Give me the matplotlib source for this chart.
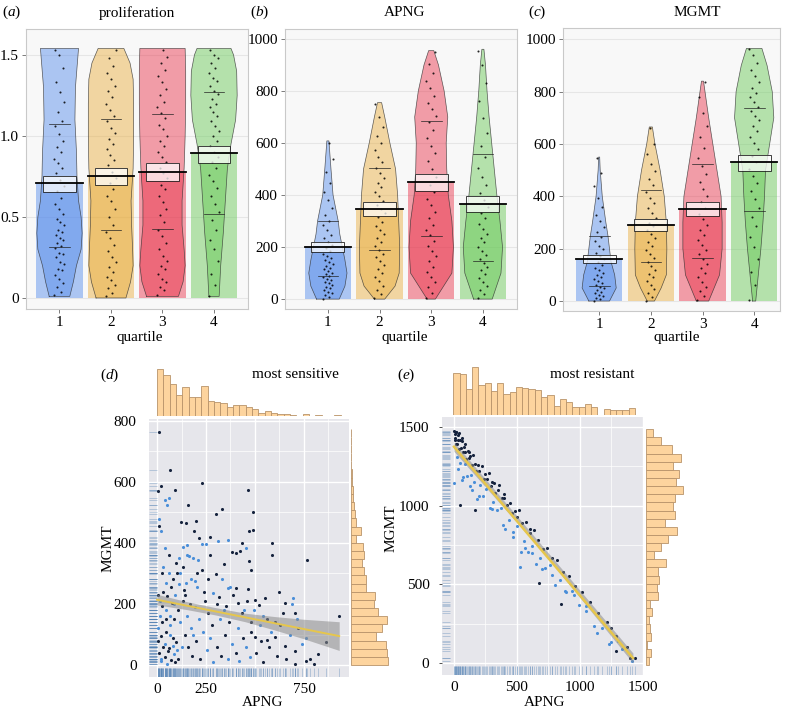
"""Pirate plots of proliferation / APNG / MGMT by quartile, plus two joint plots."""

import matplotlib

matplotlib.use("Agg")
import matplotlib.pyplot as plt
import numpy as np
from matplotlib.patches import Rectangle

plt.rcParams["font.family"] = ["Liberation Serif", "DejaVu Serif"]
plt.rcParams["font.size"] = 11
plt.rcParams["mathtext.fontset"] = "custom"
plt.rcParams["mathtext.rm"] = "Liberation Serif"
plt.rcParams["mathtext.it"] = "Liberation Serif:italic"

W, H = 792, 712

QUARTILES = [1, 2, 3, 4]
PIRATE_COLOURS = ["#4f87eb", "#e9ab37", "#e92c45", "#61c74f"]

# ---- (a) proliferation -------------------------------------------------------
prolif_mean = [0.71, 0.755, 0.778, 0.895]
prolif_box_lo = [0.654, 0.70, 0.722, 0.833]
prolif_box_hi = [0.753, 0.80, 0.833, 0.938]
prolif_q_lo = [0.315, 0.42, 0.425, 0.518]
prolif_q_hi = [1.074, 1.105, 1.135, 1.27]
prolif_levels = [
    [0.01, 0.1, 0.2, 0.3, 0.4, 0.5, 0.6, 0.75, 0.9, 1.1, 1.3, 1.54],
    [0.0, 0.1, 0.2, 0.3, 0.45, 0.6, 0.8, 1.0, 1.2, 1.35, 1.45, 1.54],
    [0.01, 0.1, 0.2, 0.3, 0.45, 0.6, 0.8, 1.0, 1.2, 1.4, 1.54],
    [0.01, 0.2, 0.4, 0.6, 0.8, 0.95, 1.1, 1.25, 1.4, 1.5, 1.54],
]
prolif_widths = [
    [0.20, 0.27, 0.33, 0.42, 0.44, 0.42, 0.37, 0.34, 0.33, 0.30, 0.31, 0.37],
    [0.29, 0.38, 0.43, 0.42, 0.40, 0.39, 0.43, 0.44, 0.44, 0.43, 0.37, 0.25],
    [0.31, 0.40, 0.44, 0.42, 0.38, 0.38, 0.42, 0.44, 0.45, 0.45, 0.44],
    [0.10, 0.13, 0.18, 0.22, 0.26, 0.33, 0.42, 0.45, 0.44, 0.38, 0.33],
]
prolif_points = [
    [0.02, 0.04, 0.07, 0.09, 0.12, 0.14, 0.17, 0.18, 0.21, 0.22, 0.25, 0.27, 0.28, 0.31,
     0.32, 0.34, 0.36, 0.37, 0.39, 0.41, 0.42, 0.45, 0.47, 0.49, 0.52, 0.55, 0.58, 0.62,
     0.66, 0.69, 0.73, 0.77, 0.8, 0.83, 0.86, 0.9, 0.93, 0.97, 1.01, 1.06, 1.09, 1.15,
     1.21, 1.27, 1.33, 1.42, 1.5, 1.53],
    [0.01, 0.03, 0.06, 0.08, 0.11, 0.13, 0.16, 0.19, 0.22, 0.25, 0.29, 0.33, 0.37, 0.41,
     0.45, 0.5, 0.55, 0.6, 0.63, 0.67, 0.71, 0.74, 0.78, 0.82, 0.85, 0.88, 0.92, 0.95,
     0.98, 1.02, 1.05, 1.09, 1.12, 1.16, 1.2, 1.24, 1.28, 1.31, 1.35, 1.39, 1.43, 1.48, 1.53],
    [0.02, 0.05, 0.07, 0.1, 0.12, 0.15, 0.18, 0.2, 0.23, 0.26, 0.3, 0.34, 0.38, 0.42,
     0.47, 0.51, 0.55, 0.59, 0.63, 0.67, 0.7, 0.74, 0.77, 0.8, 0.84, 0.87, 0.9, 0.94,
     0.97, 1.0, 1.04, 1.07, 1.11, 1.14, 1.18, 1.21, 1.25, 1.29, 1.33, 1.37, 1.41, 1.45,
     1.49, 1.53],
    [0.01, 0.08, 0.15, 0.23, 0.3, 0.36, 0.42, 0.48, 0.53, 0.58, 0.63, 0.68, 0.72, 0.76,
     0.8, 0.84, 0.87, 0.9, 0.94, 0.97, 1.0, 1.03, 1.06, 1.09, 1.12, 1.15, 1.18, 1.2,
     1.23, 1.26, 1.28, 1.31, 1.34, 1.36, 1.39, 1.42, 1.45, 1.48, 1.5, 1.53],
]

# ---- (b) APNG ----------------------------------------------------------------
apng_mean = [200, 347, 450, 365]
apng_box_lo = [181, 321, 417, 335]
apng_box_hi = [218, 372, 481, 395]
apng_q_lo = [87, 190, 243, 148]
apng_q_hi = [301, 503, 683, 557]
apng_levels = [
    [0, 50, 100, 150, 200, 250, 300, 400, 500, 608],
    [0, 50, 100, 200, 300, 400, 500, 600, 700, 755],
    [0, 100, 200, 300, 400, 500, 600, 700, 800, 900, 955],
    [0, 100, 200, 300, 400, 500, 600, 700, 800, 900, 960],
]
apng_widths = [
    [0.22, 0.33, 0.37, 0.33, 0.28, 0.23, 0.20, 0.10, 0.06, 0.02],
    [0.10, 0.30, 0.38, 0.39, 0.37, 0.35, 0.31, 0.20, 0.10, 0.04],
    [0.08, 0.40, 0.43, 0.40, 0.33, 0.30, 0.29, 0.32, 0.25, 0.14, 0.05],
    [0.18, 0.35, 0.38, 0.33, 0.27, 0.22, 0.17, 0.12, 0.08, 0.05, 0.02],
]
apng_points = [
    [2, 8, 15, 22, 28, 35, 41, 48, 55, 60, 66, 72, 78, 84, 90, 96, 102, 108, 115, 121,
     128, 135, 142, 150, 158, 166, 175, 185, 196, 208, 220, 233, 248, 265, 283, 302,
     325, 350, 380, 410, 445, 490, 540, 600],
    [3, 18, 35, 52, 68, 85, 100, 116, 130, 145, 160, 175, 190, 205, 220, 236, 250, 266,
     282, 298, 314, 330, 346, 362, 378, 395, 412, 430, 448, 466, 485, 505, 525, 548,
     572, 598, 628, 660, 700, 750],
    [4, 25, 45, 65, 85, 105, 125, 145, 165, 185, 205, 225, 245, 265, 285, 310, 335, 360,
     385, 410, 440, 470, 500, 530, 560, 590, 620, 650, 680, 705, 730, 755, 780, 810,
     840, 870, 905, 950],
    [5, 20, 35, 50, 65, 80, 95, 110, 125, 140, 155, 170, 186, 202, 218, 235, 252, 270,
     290, 310, 332, 355, 380, 408, 438, 470, 505, 545, 590, 640, 695, 760, 830, 900, 955],
]

# ---- (c) MGMT ----------------------------------------------------------------
mgmt_mean = [160, 290, 352, 530]
mgmt_box_lo = [144, 268, 325, 498]
mgmt_box_hi = [174, 313, 377, 558]
mgmt_q_lo = [57, 150, 166, 344]
mgmt_q_hi = [248, 424, 522, 736]
mgmt_levels = [
    [0, 50, 100, 150, 200, 250, 300, 400, 500, 550],
    [0, 50, 100, 200, 300, 400, 500, 600, 665],
    [0, 100, 200, 300, 400, 500, 600, 700, 840],
    [0, 100, 200, 300, 400, 500, 600, 700, 800, 900, 965],
]
mgmt_widths = [
    [0.20, 0.33, 0.30, 0.23, 0.20, 0.17, 0.13, 0.06, 0.02, 0.01],
    [0.07, 0.20, 0.30, 0.31, 0.30, 0.26, 0.18, 0.08, 0.03],
    [0.12, 0.33, 0.38, 0.38, 0.36, 0.28, 0.20, 0.12, 0.02],
    [0.03, 0.08, 0.13, 0.17, 0.20, 0.22, 0.30, 0.38, 0.35, 0.25, 0.15],
]
mgmt_points = [
    [1, 6, 12, 18, 24, 30, 36, 42, 48, 55, 62, 69, 76, 84, 92, 100, 109, 118, 128, 138,
     149, 160, 172, 185, 198, 212, 228, 245, 262, 282, 305, 330, 360, 395, 440, 490, 545],
    [2, 15, 30, 45, 60, 75, 90, 105, 120, 135, 150, 165, 180, 195, 210, 225, 240, 255,
     270, 285, 300, 318, 336, 355, 375, 395, 418, 442, 468, 495, 525, 560, 600, 660],
    [3, 20, 38, 55, 72, 90, 108, 125, 142, 160, 178, 196, 215, 234, 253, 272, 292, 312,
     333, 355, 378, 402, 428, 455, 485, 515, 548, 585, 625, 670, 720, 780, 835],
    [5, 60, 110, 160, 205, 245, 285, 320, 355, 390, 420, 450, 478, 505, 530, 555, 580,
     605, 628, 650, 670, 690, 708, 725, 742, 760, 778, 796, 815, 835, 858, 882, 910,
     940, 962],
]

# ---- (d) most sensitive ------------------------------------------------------
sens_apng = [
    12, 68, 232, 462, 22, 6, 92, 160, 300, 332,
    492, 42, 52, 60, 12, 18, 10, 585, 432, 765,
    588, 472, 488, 122, 148, 198, 188, 212, 252, 312,
    362, 482, 472, 272, 382, 402, 422, 452, 152, 132,
    112, 152, 162, 182, 172, 192, 148, 40, 62, 30,
    62, 82, 102, 202, 232, 262, 302, 332, 362, 402,
    462, 502, 522, 622, 652, 642, 692, 690, 702, 712,
    930, 602, 562, 542, 482, 502, 532, 562, 602, 652,
    702, 742, 762, 780, 822, 862, 802, 702, 762, 5,
    14, 27, 33, 47, 53, 66, 74, 87, 93, 7,
    19, 26, 39, 46, 59, 67, 79, 86, 99, 11,
    21, 31, 42, 51, 57, 71, 82, 91, 103, 108,
    118, 133, 141, 154, 158, 173, 179, 194, 198, 213,
    221, 234, 238, 253, 262, 268, 283, 287, 304, 308,
    323, 328, 343, 347, 362, 367, 384, 388, 403, 412,
    418, 433, 437, 452, 457, 474, 478, 493, 507, 524,
    540, 550, 570, 580, 610, 630, 660, 680, 720, 112,
    138, 205, 245, 285, 318, 352, 375, 415, 445, 25,
    48, 72, 95, 118, 135, 210, 230, 340, 270, 14,
    3, 22, 44, 66, 86, 106, 126, 144, 166, 186,
]
sens_mgmt = [
    765, 640, 595, 572, 585, 570, 572, 525, 495, 512,
    500, 540, 525, 548, 478, 440, 455, 400, 400, 345,
    362, 438, 442, 470, 465, 472, 440, 415, 395, 408,
    410, 310, 342, 362, 372, 368, 375, 385, 392, 388,
    352, 362, 356, 352, 282, 276, 270, 382, 362, 320,
    300, 282, 302, 300, 312, 282, 298, 282, 252, 252,
    250, 212, 198, 240, 202, 170, 220, 200, 172, 152,
    160, 142, 152, 162, 140, 92, 80, 82, 92, 62,
    45, 70, 90, 20, 35, 75, 2, 2, 12, 230,
    210, 195, 240, 180, 225, 160, 205, 150, 230, 120,
    95, 140, 70, 110, 55, 130, 90, 35, 75, 40,
    15, 60, 25, 5, 45, 18, 62, 10, 50, 180,
    140, 210, 100, 160, 60, 120, 30, 190, 80, 150,
    20, 110, 240, 50, 170, 90, 130, 10, 200, 60,
    150, 30, 180, 100, 20, 140, 70, 230, 40, 120,
    15, 170, 90, 60, 210, 25, 110, 180, 40, 130,
    10, 220, 60, 110, 30, 130, 20, 100, 120, 265,
    245, 255, 210, 235, 222, 195, 255, 205, 180, 300,
    270, 255, 335, 300, 320, 345, 395, 330, 420, 160,
    80, 20, 150, 100, 200, 20, 60, 230, 200, 100,
]
sens_dark = [
    1, 1, 1, 1, 1, 1, 1, 1, 1, 1,
    1, 0, 0, 0, 0, 0, 1, 1, 1, 1,
    1, 1, 1, 1, 1, 1, 1, 1, 0, 0,
    0, 1, 1, 1, 1, 1, 1, 0, 0, 0,
    0, 0, 0, 0, 0, 0, 0, 0, 1, 0,
    0, 1, 1, 1, 1, 1, 1, 0, 0, 1,
    1, 1, 1, 1, 1, 1, 0, 0, 1, 0,
    1, 1, 1, 0, 1, 1, 1, 1, 1, 1,
    1, 0, 0, 1, 1, 1, 1, 1, 1, 1,
    0, 1, 1, 0, 1, 0, 1, 1, 0, 0,
    1, 1, 0, 1, 1, 0, 1, 0, 1, 1,
    0, 1, 1, 0, 1, 1, 0, 1, 0, 1,
    0, 1, 1, 0, 1, 0, 1, 0, 1, 0,
    1, 0, 1, 0, 1, 0, 1, 0, 1, 1,
    0, 1, 0, 1, 0, 1, 0, 1, 1, 0,
    0, 1, 1, 0, 1, 0, 1, 0, 1, 0,
    1, 1, 1, 0, 1, 1, 1, 0, 1, 0,
    1, 0, 1, 0, 1, 1, 0, 1, 0, 1,
    0, 1, 1, 0, 1, 0, 0, 1, 1, 0,
    1, 0, 1, 0, 0, 1, 0, 1, 1, 0,
]
sens_fit_x = [0, 930]
sens_fit_y = [214, 95]
sens_band_x = [0, 150, 300, 450, 600, 750, 930]
sens_band_lo = [197, 182, 164, 142, 115, 86, 48]
sens_band_hi = [232, 208, 188, 170, 159, 150, 142]
sens_apng_counts = [47, 41, 32, 21, 29, 19, 19, 30, 15, 14, 13, 9, 11, 11, 9, 7, 3, 5,
                    3, 2, 2, 1, 0, 2, 0, 1, 0, 0, 1]
sens_mgmt_counts = [110, 109, 104, 74, 94, 109, 82, 68, 73, 44, 44, 40, 32, 40, 37, 15,
                    29, 14, 11, 8, 7, 6, 4, 2, 1, 0, 0, 1, 1]

# ---- (e) most resistant ------------------------------------------------------
resist_apng = [
    2, 6, 11, 15, 19, 24, 28, 33, 38, 44, 49, 55, 61, 67, 72, 78, 84, 91, 97, 104,
    110, 117, 124, 131, 139, 146, 153, 161, 169, 177, 185, 193, 202, 210, 219, 228,
    237, 246, 256, 265, 275, 285, 295, 306, 316, 327, 338, 349, 361, 372, 384, 396,
    408, 421, 433, 446, 459, 472, 486, 500, 514, 528, 543, 557, 572, 588, 603, 619,
    636, 652, 669, 686, 704, 722, 741, 760, 780, 800, 821, 843, 866, 889, 913, 938,
    964, 991, 1019, 1048, 1078, 1110, 1142, 1176, 1212, 1249, 1288, 1330, 1372, 1410,
    1440,
    48, 0, 167, 675, 849, 524, 1135, 1286, 8, 14, 30, 40, 22, 60, 90, 120, 70, 140,
    200, 300, 390, 470, 560, 620, 700, 780, 880, 950, 1050, 1230, 1300, 1400, 1250,
    600, 500, 400, 300,
]
resist_mgmt = [
    1478, 1429, 1455, 1391, 1467, 1312, 1419, 1234, 1359, 1418, 1269, 1368, 1412, 1162,
    1342, 1376, 1266, 1344, 1298, 1187, 1351, 1304, 1128, 1316, 1194, 1262, 1320, 1148,
    1265, 1218, 1040, 1262, 1219, 1131, 1253, 1059, 1171, 1202, 1108, 1169, 1210, 985,
    1126, 1026, 1146, 1081, 970, 1100, 1133, 988, 1052, 1075, 849, 1002, 910, 1018, 951,
    833, 965, 872, 974, 706, 891, 778, 894, 709, 825, 744, 843, 628, 782, 666, 724, 602,
    729, 621, 667, 498, 658, 528, 576, 454, 556, 458, 488, 368, 451, 364, 385, 235, 315,
    222, 263, 133, 172, 92, 102, 11, 33,
    1005, 1144, 973, 508, 375, 610, 190, 76, 1420, 1470, 1450, 1460, 1390, 1430, 1390,
    1340, 1180, 1100, 1060, 980, 880, 800, 730, 700, 600, 560, 460, 430, 330, 120, 140,
    30, 220, 850, 930, 1050, 1150,
]
resist_dark = [
    1, 1, 1, 1, 1, 0, 1, 0, 1, 1, 0, 1, 1, 0, 1, 1, 0, 1, 1, 0,
    1, 1, 0, 1, 0, 1, 1, 0, 1, 1, 0, 1, 1, 0, 1, 0, 1, 1, 0, 1,
    1, 0, 1, 0, 1, 1, 0, 1, 1, 0, 1, 1, 0, 1, 0, 1, 1, 0, 1, 0,
    1, 0, 1, 0, 1, 0, 1, 0, 1, 0, 1, 0, 1, 0, 1, 0, 1, 0, 1, 0,
    1, 0, 1, 0, 1, 0, 1, 0, 1, 0, 1, 0, 1, 0, 1, 0, 1, 0, 1,
    1, 0, 1, 1, 1, 0, 0, 1, 1, 1, 1, 1, 1, 1, 1, 1, 0, 0,
    0, 0, 0, 0, 0, 0, 0, 0, 0, 0, 0, 0, 0, 1, 1,
    1, 1, 1, 1,
]
resist_fit_x = [0, 1420]
resist_fit_y = [1375, 32]
resist_band_x = [0, 700, 1420]
resist_band_lo = [1345, 712, 0]
resist_band_hi = [1405, 746, 64]
resist_apng_counts = [42, 41, 26, 48, 30, 32, 24, 32, 21, 23, 28, 27, 26, 25, 18, 20, 9,
                      16, 13, 8, 8, 11, 8, 0, 6, 5, 5, 5, 7]
resist_mgmt_counts = [9, 14, 4, 14, 11, 9, 18, 12, 35, 32, 38, 35, 59, 25, 44, 67, 94, 57,
                      87, 82, 87, 110, 89, 100, 80, 104, 77, 44, 22]

HIST_FACE = "#fdd49e"
HIST_EDGE = "#b8936a"
DOT_DARK = "#15223d"
DOT_LIGHT = "#4a8ed8"
RUG = "#3f74ad"


def rect(left, top, right, bottom):
    """Pixel box (from the top-left corner) -> figure fraction rect."""
    return [left / W, 1 - bottom / H, (right - left) / W, (bottom - top) / H]


def ftext(x, y, s, **kw):
    fig.text(x / W, 1 - y / H, s, **kw)


def pirate(ax, means, box_lo, box_hi, q_lo, q_hi, levels, widths, points):
    for i, x0 in enumerate(QUARTILES):
        col = PIRATE_COLOURS[i]
        ax.bar(x0, means[i], width=0.9, color=col, alpha=0.45, lw=0, zorder=1)
        lv = np.asarray(levels[i], float)
        hw = np.asarray(widths[i], float)
        xs = np.concatenate([x0 - hw, (x0 + hw)[::-1]])
        ys = np.concatenate([lv, lv[::-1]])
        ax.fill(xs, ys, facecolor=col, alpha=0.45, edgecolor="none", zorder=2)
        ax.plot(np.append(xs, xs[0]), np.append(ys, ys[0]), color="#2a2a2a",
                lw=0.5, alpha=0.75, zorder=3)
        pts = np.asarray(points[i], float)
        jit = ((np.arange(len(pts)) * 0.618034) % 1 - 0.5) * 0.2
        ax.scatter(x0 + jit, pts, s=2.2, color="black", alpha=0.85, lw=0, zorder=4)
        for q in (q_lo[i], q_hi[i]):
            ax.plot([x0 - 0.2, x0 + 0.2], [q, q], color="#222222", lw=0.5, zorder=5)
        ax.add_patch(Rectangle((x0 - 0.32, box_lo[i]), 0.64, box_hi[i] - box_lo[i],
                               facecolor="white", alpha=0.75, edgecolor="none", zorder=6))
        ax.add_patch(Rectangle((x0 - 0.32, box_lo[i]), 0.64, box_hi[i] - box_lo[i],
                               fill=False, edgecolor="#222222", lw=0.6, zorder=7))
        ax.plot([x0 - 0.45, x0 + 0.45], [means[i], means[i]], color="black",
                lw=1.3, zorder=8)


def style_pirate(ax, xlim, ylim, yticks, ylabels):
    ax.set_facecolor("#f8f8f8")
    for sp in ax.spines.values():
        sp.set_color("#c9c9c9")
        sp.set_linewidth(0.8)
    ax.set_xlim(*xlim)
    ax.set_ylim(*ylim)
    ax.set_xticks(QUARTILES)
    ax.set_yticks(yticks)
    ax.set_yticklabels(ylabels)
    ax.yaxis.grid(True, color="#e6e6e6", lw=0.8)
    ax.set_axisbelow(True)
    ax.tick_params(length=3, width=0.6, color="#666666", pad=2, labelsize=11)


def style_joint(ax, xlim, ylim, xt, xtl, xminor, yt, yminor, ytick_len):
    ax.set_facecolor("#e6e6eb")
    for sp in ax.spines.values():
        sp.set_visible(False)
    ax.set_xlim(*xlim)
    ax.set_ylim(*ylim)
    ax.set_xticks(xt)
    ax.set_xticklabels(xtl)
    ax.set_xticks(xminor, minor=True)
    ax.set_yticks(yt)
    ax.set_yticklabels([str(v) for v in yt])
    ax.set_yticks(yminor, minor=True)
    ax.grid(which="major", color="white", lw=1.0)
    ax.grid(which="minor", color="white", lw=0.5)
    ax.set_axisbelow(True)
    ax.tick_params(which="minor", length=0)
    ax.tick_params(axis="x", which="major", length=0, pad=4, labelsize=11)
    ax.tick_params(axis="y", which="major", length=ytick_len, width=0.6,
                   color="#333333", pad=9 - ytick_len, labelsize=11)


def joint(ax, xs, ys, dark, fit_x, fit_y, band_x, band_lo, band_hi, lw_fit):
    xs = np.asarray(xs, float)
    ys = np.asarray(ys, float)
    dark = np.asarray(dark, bool)
    ax.vlines(xs, 0, 0.034, transform=ax.get_xaxis_transform(), color=RUG,
              lw=0.7, alpha=0.3, zorder=2)
    ax.hlines(ys, 0, 0.04, transform=ax.get_yaxis_transform(), color=RUG,
              lw=0.7, alpha=0.3, zorder=2)
    ax.scatter(xs[~dark], ys[~dark], s=5, color=DOT_LIGHT, lw=0, zorder=3)
    ax.scatter(xs[dark], ys[dark], s=5, color=DOT_DARK, lw=0, zorder=3)
    ax.fill_between(band_x, band_lo, band_hi, color="#8c8c8c", alpha=0.55, lw=0, zorder=4)
    ax.plot(fit_x, fit_y, color="#e6c64c", lw=lw_fit, zorder=5)


def marg_top(ax, counts, start, width, xlim, ymax):
    counts = np.asarray(counts, float)
    lefts = start + width * np.arange(len(counts))
    ax.bar(lefts, counts, width=width, align="edge", color=HIST_FACE,
           edgecolor=HIST_EDGE, lw=0.6)
    ax.set_xlim(*xlim)
    ax.set_ylim(0, ymax)
    ax.axis("off")


def marg_right(ax, counts, start, width, ylim):
    counts = np.asarray(counts, float)
    bottoms = start + width * np.arange(len(counts))
    ax.barh(bottoms, counts, height=width, align="edge", color=HIST_FACE,
            edgecolor=HIST_EDGE, lw=0.6)
    ax.set_ylim(*ylim)
    ax.set_xlim(0, 120)
    ax.axis("off")


fig = plt.figure(figsize=(W / 100, H / 100), dpi=100)

# top row -----------------------------------------------------------------------
ax_a = fig.add_axes(rect(26, 29, 248, 309))
pirate(ax_a, prolif_mean, prolif_box_lo, prolif_box_hi, prolif_q_lo, prolif_q_hi,
       prolif_levels, prolif_widths, prolif_points)
style_pirate(ax_a, (0.35, 4.66), (-0.068, 1.66), [0, 0.5, 1.0, 1.5],
             ["0", "0.5", "1.0", "1.5"])

ax_b = fig.add_axes(rect(285, 29, 517, 309))
pirate(ax_b, apng_mean, apng_box_lo, apng_box_hi, apng_q_lo, apng_q_hi,
       apng_levels, apng_widths, apng_points)
style_pirate(ax_b, (0.17, 4.66), (-38, 1038), [0, 200, 400, 600, 800, 1000],
             ["0", "200", "400", "600", "800", "1000"])

ax_c = fig.add_axes(rect(563, 28, 780, 311))
pirate(ax_c, mgmt_mean, mgmt_box_lo, mgmt_box_hi, mgmt_q_lo, mgmt_q_hi,
       mgmt_levels, mgmt_widths, mgmt_points)
style_pirate(ax_c, (0.30, 4.50), (-38, 1043), [0, 200, 400, 600, 800, 1000],
             ["0", "200", "400", "600", "800", "1000"])

ftext(2, 12, "($a$)", ha="left", va="center")
ftext(137, 13, "proliferation", ha="center", va="center")
ftext(250, 12, "($b$)", ha="left", va="center")
ftext(405, 13, "APNG", ha="center", va="center")
ftext(528, 12, "($c$)", ha="left", va="center")
ftext(697, 13, "MGMT", ha="center", va="center")
for xq in (140, 405, 677):
    ftext(xq, 338, "quartile", ha="center", va="center")

# (d) most sensitive ------------------------------------------------------------
d_xlim, d_ylim = (-41, 980), (-39, 806)
ax_d = fig.add_axes(rect(149, 419, 349, 677))
joint(ax_d, sens_apng, sens_mgmt, sens_dark, sens_fit_x, sens_fit_y,
      sens_band_x, sens_band_lo, sens_band_hi, 1.4)
style_joint(ax_d, d_xlim, d_ylim, [0, 250, 500, 750], ["0", "250", "", "750"],
            [125, 375, 625, 875], [0, 200, 400, 600, 800], [100, 300, 500, 700], 0)
marg_top(fig.add_axes(rect(149, 366, 349, 416)), sens_apng_counts, 0, 32.3, d_xlim, 50)
marg_right(fig.add_axes(rect(351, 419, 391, 677)), sens_mgmt_counts, 0, 26.7, d_ylim)

ftext(100, 375, "($d$)", ha="left", va="center")
ftext(295, 375, "most sensitive", ha="center", va="center")
ftext(108, 548, "MGMT", ha="center", va="center", rotation=90)
ftext(263, 703, "APNG", ha="center", va="center")

# (e) most resistant ------------------------------------------------------------
e_xlim, e_ylim = (-95, 1500), (-76, 1564)
ax_e = fig.add_axes(rect(442, 417, 643, 675))
joint(ax_e, resist_apng, resist_mgmt, resist_dark, resist_fit_x, resist_fit_y,
      resist_band_x, resist_band_lo, resist_band_hi, 1.8)
style_joint(ax_e, e_xlim, e_ylim, [0, 500, 1000, 1500], ["0", "500", "1000", "1500"],
            [250, 750, 1250], [0, 500, 1000, 1500], [250, 750, 1250], 2)
marg_top(fig.add_axes(rect(442, 366, 643, 415)), resist_apng_counts, -5, 49.7, e_xlim, 49)
marg_right(fig.add_axes(rect(646, 417, 686, 675)), resist_mgmt_counts, -13, 51.7, e_ylim)

ftext(397, 375, "($e$)", ha="left", va="center")
ftext(592, 375, "most resistant", ha="center", va="center")
ftext(391, 528, "MGMT", ha="center", va="center", rotation=90)
ftext(545, 703, "APNG", ha="center", va="center")

fig.savefig("out.png", dpi=100)
